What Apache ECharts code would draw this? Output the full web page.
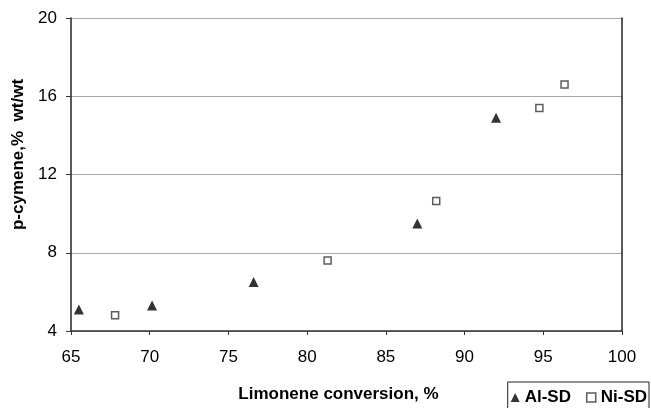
<!DOCTYPE html>
<html>
<head>
<meta charset="utf-8">
<script src="https://cdn.jsdelivr.net/npm/echarts@6/dist/echarts.min.js"></script>
<style>html,body{margin:0;padding:0;background:#fff}#c{width:651px;height:408px}</style>
</head>
<body>
<div id="c"></div>
<script>
const alX = [65.5, 70.15, 76.6, 87.0, 92.0];
const alY = [5.1, 5.3, 6.5, 9.5, 14.9];
const niX = [67.8, 81.3, 88.2, 94.75, 96.35];
const niY = [4.8, 7.6, 10.65, 15.4, 16.6];
const xTicks = {min: 65, max: 100, interval: 5};
const yTicks = {min: 4, max: 20, interval: 4};
const seriesNames = ['Al-SD', 'Ni-SD'];
const xTitle = 'Limonene conversion, %';
const yTitle = 'p-cymene,%  wt/wt';

const font = 'Liberation Sans, Arial, sans-serif';
const chart = echarts.init(document.getElementById('c'), null, {renderer: 'canvas'});
chart.setOption({
  animation: false,
  backgroundColor: '#fff',
  grid: {left: 71, top: 18, right: 29, bottom: 75, containLabel: false},
  legend: {
    right: 2, top: 382,
    itemWidth: 9, itemHeight: 9, itemGap: 15,
    padding: [7, 2, 8, 3],
    borderColor: '#222', borderWidth: 1,
    textStyle: {fontFamily: font, fontWeight: 'bold', fontSize: 17, color: '#000'},
    data: [{name: seriesNames[0], icon: 'triangle', itemStyle:{color:'#000'}},
           {name: seriesNames[1], icon: 'rect', itemStyle:{color:'#fff', borderColor:'#333', borderWidth:1.5}}]
  },
  xAxis: {
    type: 'value', min: xTicks.min, max: xTicks.max, interval: xTicks.interval,
    name: xTitle, nameLocation: 'middle', nameGap: 55,
    nameTextStyle: {fontFamily: font, fontWeight: 'bold', fontSize: 17, color: '#000', padding: [0, 16, 0, 0]},
    axisLine: {show: true, onZero: false, lineStyle: {color: '#333', width: 1.5}},
    axisTick: {show: true, length: 4, lineStyle: {color: '#333'}},
    axisLabel: {fontFamily: font, fontSize: 17, color: '#000', margin: 18},
    splitLine: {show: false}
  },
  yAxis: [{
    type: 'value', min: yTicks.min, max: yTicks.max, interval: yTicks.interval,
    name: yTitle, nameLocation: 'middle', nameGap: 41,
    nameTextStyle: {fontFamily: font, fontWeight: 'bold', fontSize: 17, color: '#000', padding: [0, 0, 0, 40]},
    axisLine: {show: true, onZero: false, lineStyle: {color: '#222', width: 1.5}},
    axisTick: {show: true, length: 5, lineStyle: {color: '#333'}},
    axisLabel: {fontFamily: font, fontSize: 17, color: '#000', margin: 14},
    splitLine: {show: true, lineStyle: {color: '#a8a8a8', width: 1.2}}
  }, {
    type: 'value', min: yTicks.min, max: yTicks.max, interval: yTicks.interval, position: 'right',
    axisLine: {show: true, onZero: false, lineStyle: {color: '#222', width: 1.5}},
    axisTick: {show: false}, axisLabel: {show: false}, splitLine: {show: false}
  }],
  series: [{
    name: seriesNames[0], type: 'scatter', symbol: 'triangle', symbolSize: 10,
    itemStyle: {color: '#000'},
    data: alX.map((x, i) => [x, alY[i]])
  }, {
    name: seriesNames[1], type: 'scatter', symbol: 'rect', symbolSize: 7,
    itemStyle: {color: '#fff', borderColor: '#333', borderWidth: 1.5},
    data: niX.map((x, i) => [x, niY[i]])
  }]
});
</script>
</body>
</html>
